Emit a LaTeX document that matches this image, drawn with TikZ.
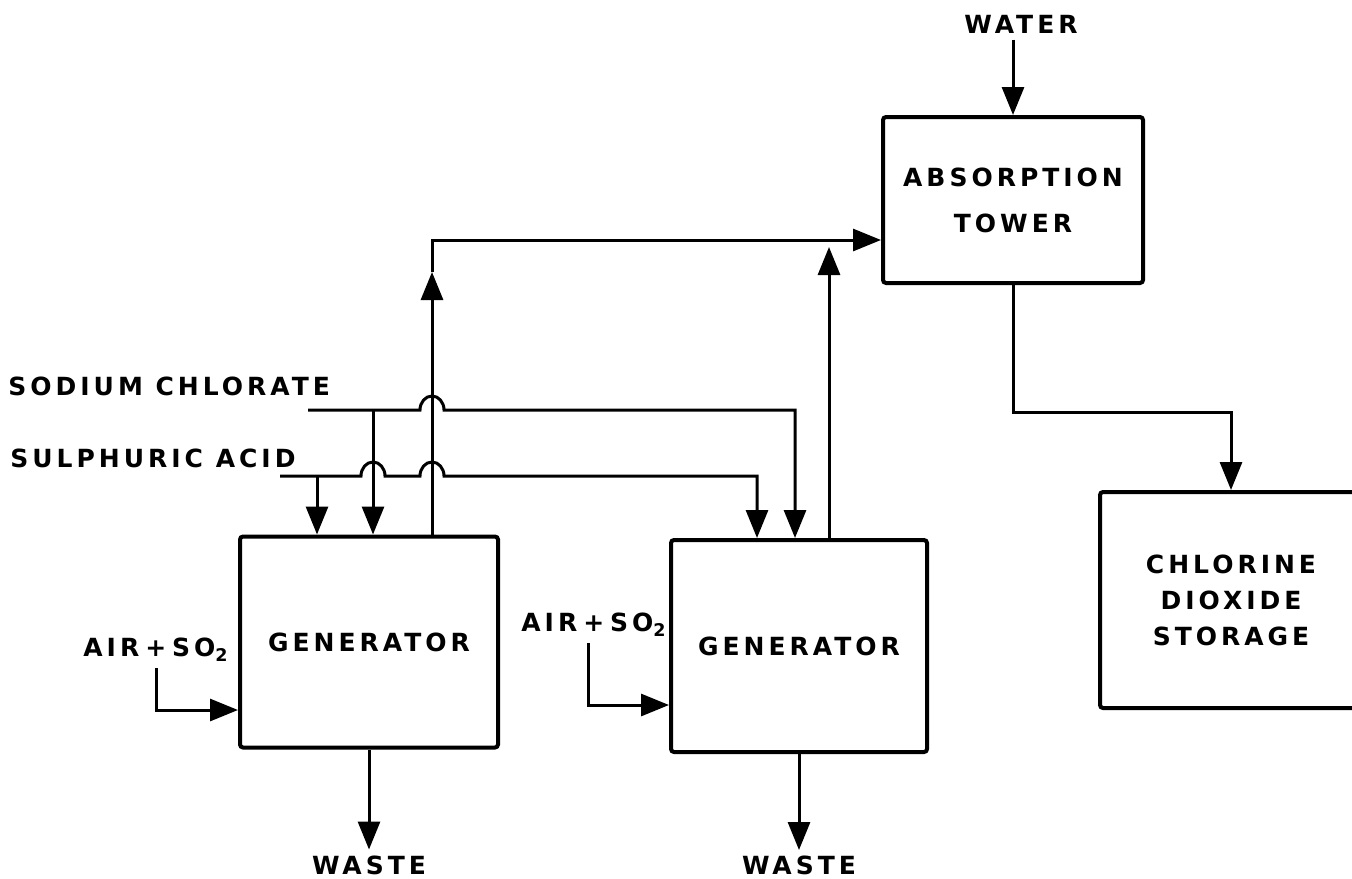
\documentclass[tikz,border=0pt]{standalone}
\usepackage{fontspec}
\newfontfamily\lettering[LetterSpace=16]{DejaVu Sans}
\usetikzlibrary{arrows.meta,positioning}
\tikzset{
  box/.style={
    draw,
    line width=2pt,
    rounded corners=1.5pt,
    align=center
  },
  line/.style={
    -{Triangle[length=14pt,width=11pt]},
    line width=1.5pt
  },
  stream/.style={
    inner sep=3pt
  }
}

\begin{document}
\begin{tikzpicture}[x=0.5pt, y=-0.5pt, font=\lettering\bfseries\fontsize{12.5}{15}\selectfont]
  \useasboundingbox (0,0) rectangle (1352,878);

  % units
  \node[box, minimum width=130pt, minimum height=83pt] (tower) at (1013,200) {ABSORPTION\\[8pt]TOWER};
  \node[box, minimum width=131pt, minimum height=108pt] (storage) at (1231,600) {CHLORINE\\[3pt]DIOXIDE\\[3pt]STORAGE};
  \node[box, minimum width=129pt, minimum height=105.5pt] (genA) at (369,642) {GENERATOR};
  \node[box, minimum width=128pt, minimum height=106pt] (genB) at (799,646) {GENERATOR};

  % stream labels
  \node[stream] (water) at (1021,24) {WATER};
  \node[stream, anchor=west] (chlorate) at (2,386) {SODIUM CHLORATE};
  \node[stream, anchor=west] (acid) at (4,458) {SULPHURIC ACID};
  \node[stream] (airA) at (156,650) {AIR\hspace{3pt}+\hspace{3pt}SO\textsubscript{2}};
  \node[stream] (airB) at (594,625) {AIR\hspace{3pt}+\hspace{3pt}SO\textsubscript{2}};
  \node[stream, below=50pt of genA] (wasteA) {WASTE};
  \node[stream, below=48pt of genB] (wasteB) {WASTE};

  % feed points
  \coordinate (chlIn) at (308,410);
  \coordinate (acidIn) at (280,476);
  \coordinate (acidDropA) at (317,476);
  \coordinate (chlDropA) at (373,410);
  \coordinate (acidB) at (757,476);
  \coordinate (chlB) at (795,410);
  \coordinate (riseA) at (432,272);
  \coordinate (riseB) at (829,247);
  \coordinate (towerIn) at ([yshift=-20pt]tower.west);

  \draw[line] (water.south -| tower.north) -- (tower.north);
  \draw[line] (tower.south) -- ++(0,127) -| (storage.north);

  \draw[line] (chlIn) -- ([xshift=-6pt]riseA |- chlIn)
    arc[start angle=180, end angle=360, x radius=12, y radius=14]
    -- (chlB) -- (chlB |- genB.north);
  \draw[line] (chlDropA) -- (chlDropA |- genA.north);
  \draw[line] (acidIn) -- ([xshift=-6pt]chlDropA |- acidIn)
    arc[start angle=180, end angle=360, x radius=12, y radius=14]
    -- ([xshift=-6pt]riseA |- acidIn)
    arc[start angle=180, end angle=360, x radius=12, y radius=14]
    -- (acidB) -- (acidB |- genB.north);
  \draw[line] (acidDropA) -- (acidDropA |- genA.north);

  \draw[line] (riseA |- genA.north) -- (riseA);
  \draw[line] (riseA) |- (towerIn);
  \draw[line] (riseB |- genB.north) -- (riseB);

  \draw[line] (airA.south) |- ([yshift=-34pt]genA.west);
  \draw[line] ([xshift=-3pt]airB.south) |- ([yshift=-29.5pt]genB.west);
  \draw[line] (genA.south) -- (wasteA.north);
  \draw[line] (genB.south) -- (wasteB.north);
\end{tikzpicture}
\end{document}
